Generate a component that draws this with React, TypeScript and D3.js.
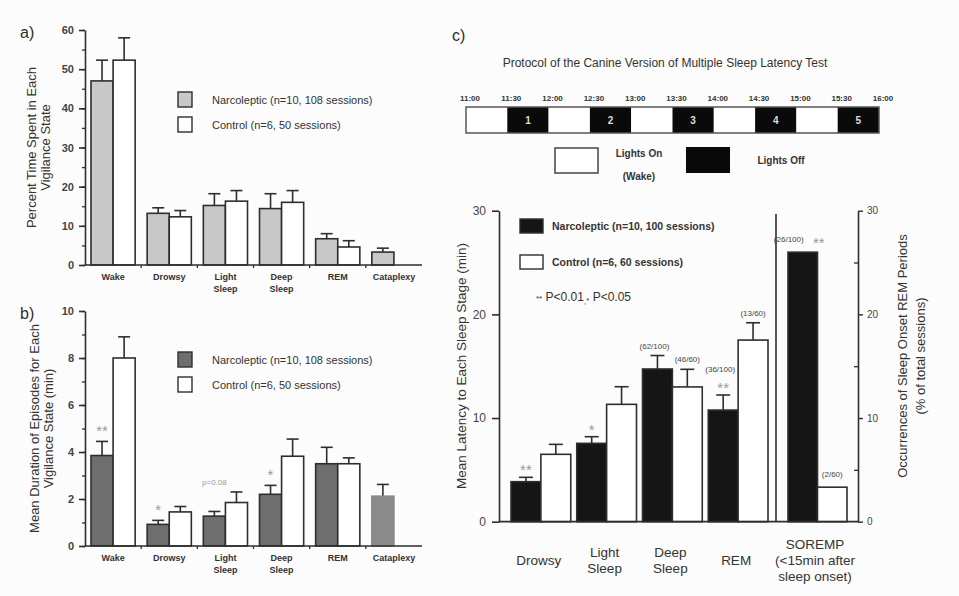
import { useEffect, useRef } from "react";
import * as d3 from "d3";

const stagesAB = ["Wake", "Drowsy", "Light Sleep", "Deep Sleep", "REM", "Cataplexy"];
const groups = ["Narcoleptic", "Control"];

// a) percent time spent in each vigilance state
const pctNarco = [47, 13.2, 15.2, 14.4, 6.7, 3.3];
const pctNarcoSem = [5.3, 1.4, 3.0, 3.8, 1.3, 1.0];
const pctControl = [52.3, 12.3, 16.3, 16.0, 4.6, null];
const pctControlSem = [5.7, 1.6, 2.7, 3.0, 1.6, null];

// b) mean duration of episodes (min)
const durNarco = [3.85, 0.92, 1.27, 2.2, 3.5, 2.12];
const durNarcoSem = [0.6, 0.17, 0.2, 0.38, 0.7, 0.5];
const durControl = [8.0, 1.45, 1.85, 3.82, 3.5, null];
const durControlSem = [0.9, 0.23, 0.45, 0.73, 0.25, null];
const durSig = ["**", "*", "p=0.08", "*", null, null];

// c) latency to each sleep stage (min)
const stagesC = ["Drowsy", "Light Sleep", "Deep Sleep", "REM"];
const latNarco = [3.86, 7.56, 14.73, 10.77];
const latNarcoSem = [0.42, 0.64, 1.3, 1.45];
const latControl = [6.5, 11.32, 13.0, 17.52];
const latControlSem = [0.96, 1.7, 1.7, 1.67];
const latNarcoCounts = [null, null, "(62/100)", "(36/100)"];
const latControlCounts = [null, null, "(46/60)", "(13/60)"];
const latNarcoSig = ["**", "*", null, "**"];
const sorempPct = [26, 3.33];
const sorempCounts = ["(26/100)", "(2/60)"];

const protocolTimes = ["11:00", "11:30", "12:00", "12:30", "13:00", "13:30", "14:00", "14:30", "15:00", "15:30", "16:00"];
const sessionLabels = ["1", "2", "3", "4", "5"];

const FONT = "'Liberation Sans', Arial, sans-serif";
const INK = "#2e2e2e";

type Sel = d3.Selection<SVGGElement, unknown, null, undefined>;

function barPanel(g: Sel, o: any) {
  const x = d3.scaleBand(stagesAB, [o.x0, o.x1]);
  const sub = d3.scaleBand(groups, [6, x.bandwidth() - 6]);
  const y = d3.scaleLinear([0, o.max], [o.yBottom, o.yTop]);
  const bw = sub.bandwidth();

  // bars
  stagesAB.forEach((s, i) => {
    const vals = [o.narco[i], o.ctrl[i]];
    const sems = [o.narcoSem[i], o.ctrlSem[i]];
    vals.forEach((v, j) => {
      if (v == null) return;
      const bx = x(s)! + sub(groups[j])!;
      const cata = s === "Cataplexy";
      const top = y(v + sems[j]);
      const cx = bx + bw / 2;
      g.append("line").attr("x1", cx).attr("x2", cx).attr("y1", y(v)).attr("y2", top)
        .attr("stroke", INK).attr("stroke-width", 1.6);
      g.append("line").attr("x1", cx - 6).attr("x2", cx + 6).attr("y1", top).attr("y2", top)
        .attr("stroke", INK).attr("stroke-width", 1.6);
      g.append("rect").attr("x", bx).attr("y", y(v)).attr("width", bw).attr("height", y(0) - y(v))
        .attr("fill", j === 0 ? (cata ? o.cataFill : o.narcoFill) : "#fff")
        .attr("stroke", cata && o.cataStroke ? o.cataStroke : INK).attr("stroke-width", 1.6);
    });
    if (o.sig && o.sig[i]) {
      const cx = x(s)! + sub(groups[0])! + bw / 2;
      const isP = o.sig[i].startsWith("p");
      g.append("text").attr("x", cx).attr("y", y(o.narco[i] + o.narcoSem[i]) - (isP ? 26 : 5))
        .attr("text-anchor", "middle").attr("font-size", isP ? 8 : 15).attr("fill", "#999")
        .attr("font-family", FONT).text(o.sig[i]);
    }
  });

  // y axis
  g.append("g").attr("transform", `translate(${o.x0},0)`)
    .call(d3.axisLeft(y).tickValues(d3.range(0, o.max + 0.01, o.minor)).tickSize(3).tickFormat(() => ""))
    .call((a) => a.select(".domain").remove())
    .call((a) => a.selectAll("line").attr("stroke", INK).attr("stroke-width", 1.3));
  g.append("g").attr("transform", `translate(${o.x0},0)`)
    .call(d3.axisLeft(y).tickValues(d3.range(0, o.max + 0.01, o.major)).tickSize(6).tickPadding(5).tickSizeOuter(0))
    .call((a) => a.select(".domain").attr("stroke", INK).attr("stroke-width", 1.6))
    .call((a) => a.selectAll("line").attr("stroke", INK).attr("stroke-width", 1.6))
    .call((a) => a.selectAll("text").attr("font-size", 11).attr("font-weight", "bold")
      .attr("font-family", FONT).attr("fill", "#444"));

  // x axis
  g.append("line").attr("x1", o.x0).attr("x2", o.x1).attr("y1", y(0)).attr("y2", y(0))
    .attr("stroke", INK).attr("stroke-width", 1.6);
  stagesAB.slice(1).forEach((s) => {
    g.append("line").attr("x1", x(s)!).attr("x2", x(s)!).attr("y1", y(0)).attr("y2", y(0) + 3)
      .attr("stroke", INK).attr("stroke-width", 1.3);
  });
  stagesAB.forEach((s) => {
    const t = g.append("text").attr("x", x(s)! + x.bandwidth() / 2).attr("y", y(0) + 15)
      .attr("text-anchor", "middle").attr("font-size", 9).attr("font-weight", "bold")
      .attr("font-family", FONT).attr("fill", "#333");
    s.split(" ").forEach((w, k) => {
      t.append("tspan").attr("x", x(s)! + x.bandwidth() / 2).attr("dy", k === 0 ? 0 : 12).text(w);
    });
  });

  // y label
  const ly = (o.yTop + o.yBottom) / 2;
  o.yLabel.forEach((l: string, k: number) => {
    g.append("text").attr("transform", `translate(${o.yLabelX[k]},${ly}) rotate(-90)`)
      .attr("text-anchor", "middle").attr("dominant-baseline", "central")
      .attr("font-size", 13).attr("font-family", FONT).attr("fill", "#333").text(l);
  });

  // panel tag
  g.append("text").attr("x", 20).attr("y", o.yTop + 8).attr("font-size", 16)
    .attr("font-family", FONT).attr("fill", INK).text(o.tag);

  // legend
  const lg = [["Narcoleptic (n=10, 108 sessions)", o.narcoFill], ["Control (n=6, 50 sessions)", "#fff"]];
  lg.forEach(([txt, fill], k) => {
    const ty = o.legendY + k * 25;
    g.append("rect").attr("x", 178).attr("y", ty).attr("width", 14).attr("height", 15)
      .attr("fill", fill).attr("stroke", INK).attr("stroke-width", 1.4);
    g.append("text").attr("x", 212).attr("y", ty + 7.5).attr("dominant-baseline", "central")
      .attr("font-size", 11).attr("font-family", FONT).attr("fill", "#333").text(txt);
  });
}

const App = () => {
  const ref = useRef<SVGSVGElement>(null);

  useEffect(() => {
    const svg = d3.select(ref.current!);
    svg.selectAll("*").remove();
    svg.append("rect").attr("width", 959).attr("height", 596).attr("fill", "#fcfcfc");

    barPanel(svg.append("g"), {
      tag: "a)", x0: 85, x1: 422, yTop: 30, yBottom: 265, max: 60, major: 10, minor: 5,
      narco: pctNarco, narcoSem: pctNarcoSem, ctrl: pctControl, ctrlSem: pctControlSem,
      narcoFill: "#c8c8c8", cataFill: "#c8c8c8",
      yLabel: ["Percent Time Spent in Each", "Vigilance State"], yLabelX: [31, 45], legendY: 92,
    });
    barPanel(svg.append("g"), {
      tag: "b)", x0: 85, x1: 422, yTop: 311, yBottom: 546, max: 10, major: 2, minor: 1,
      narco: durNarco, narcoSem: durNarcoSem, ctrl: durControl, ctrlSem: durControlSem, sig: durSig,
      narcoFill: "#6e6e6e", cataFill: "#8a8a8a", cataStroke: "#8a8a8a",
      yLabel: ["Mean Duration of Episodes for Each", "Vigilance State (min)"], yLabelX: [34, 48], legendY: 352,
    });

    // ---- panel c ----
    const g = svg.append("g");
    g.append("text").attr("x", 452).attr("y", 41).attr("font-size", 16)
      .attr("font-family", FONT).attr("fill", INK).text("c)");
    g.append("text").attr("x", 665).attr("y", 63).attr("text-anchor", "middle").attr("dominant-baseline", "central")
      .attr("font-size", 12).attr("font-family", FONT).attr("fill", "#333")
      .text("Protocol of the Canine Version of Multiple Sleep Latency Test");

    // protocol timeline
    const xt = d3.scalePoint(protocolTimes, [466, 879]);
    protocolTimes.slice(0, -1).forEach((t, i) => {
      const x0 = xt(t)!, x1 = xt(protocolTimes[i + 1])!;
      const dark = i % 2 === 1;
      g.append("rect").attr("x", x0).attr("y", 107).attr("width", x1 - x0).attr("height", 26)
        .attr("fill", dark ? "#0a0a0a" : "#fff");
      if (dark) {
        g.append("text").attr("x", (x0 + x1) / 2).attr("y", 120).attr("text-anchor", "middle")
          .attr("dominant-baseline", "central").attr("font-size", 10).attr("font-weight", "bold")
          .attr("font-family", FONT).attr("fill", "#ddd").text(sessionLabels[(i - 1) / 2]);
      }
    });
    g.append("rect").attr("x", 466).attr("y", 107).attr("width", 413).attr("height", 26)
      .attr("fill", "none").attr("stroke", "#555").attr("stroke-width", 1.5);
    protocolTimes.forEach((t) => {
      g.append("text").attr("x", xt(t)! + 4).attr("y", 98).attr("text-anchor", "middle")
        .attr("dominant-baseline", "central").attr("font-size", 8).attr("font-weight", "bold")
        .attr("font-family", FONT).attr("fill", "#333").text(t);
    });
    g.append("rect").attr("x", 555).attr("y", 148).attr("width", 43).attr("height", 25)
      .attr("fill", "#fff").attr("stroke", "#444").attr("stroke-width", 1.5);
    g.append("rect").attr("x", 686).attr("y", 147).attr("width", 44).attr("height", 26).attr("fill", "#0a0a0a");
    [["Lights On", 639, 153], ["(Wake)", 639, 176], ["Lights Off", 781, 160]].forEach(([t, x, y]) => {
      g.append("text").attr("x", x).attr("y", y).attr("text-anchor", "middle").attr("dominant-baseline", "central")
        .attr("font-size", 10).attr("font-weight", "bold").attr("font-family", FONT).attr("fill", "#333").text(t as string);
    });

    // latency chart
    const yC = d3.scaleLinear([0, 30], [521.7, 210.7]);
    const xC = d3.scaleBand(stagesC, [508, 771]);
    const subC = d3.scaleBand(groups, [3, xC.bandwidth() - 3]);
    const xS = d3.scaleBand(["SOREMP"], [776, 858]);
    const subS = d3.scaleBand(groups, [12, 71]);
    const bw = subC.bandwidth();

    stagesC.forEach((s, i) => {
      [latNarco[i], latControl[i]].forEach((v, j) => {
        const sem = j === 0 ? latNarcoSem[i] : latControlSem[i];
        const bx = xC(s)! + subC(groups[j])!;
        const cx = bx + bw / 2;
        const top = yC(v + sem);
        g.append("line").attr("x1", cx).attr("x2", cx).attr("y1", yC(v)).attr("y2", top)
          .attr("stroke", INK).attr("stroke-width", 1.6);
        g.append("line").attr("x1", cx - 7).attr("x2", cx + 7).attr("y1", top).attr("y2", top)
          .attr("stroke", INK).attr("stroke-width", 1.6);
        g.append("rect").attr("x", bx).attr("y", yC(v)).attr("width", bw).attr("height", yC(0) - yC(v))
          .attr("fill", j === 0 ? "#151515" : "#fff").attr("stroke", INK).attr("stroke-width", 1.6);
        const count = j === 0 ? latNarcoCounts[i] : latControlCounts[i];
        const sig = j === 0 ? latNarcoSig[i] : null;
        let ty = top - 7;
        if (sig) {
          g.append("text").attr("x", cx).attr("y", top - 2).attr("text-anchor", "middle")
            .attr("font-size", 15).attr("fill", "#999").attr("font-family", FONT).text(sig);
          ty = top - 23;
        }
        if (count) {
          g.append("text").attr("x", cx + (j === 0 ? -3 : 0)).attr("y", ty).attr("text-anchor", "middle")
            .attr("font-size", 8).attr("fill", "#444").attr("font-family", FONT).text(count);
        }
      });
    });
    sorempPct.forEach((v, j) => {
      const bx = xS("SOREMP")! + subS(groups[j])!;
      const w = subS.bandwidth();
      g.append("rect").attr("x", bx).attr("y", yC(v)).attr("width", w).attr("height", yC(0) - yC(v))
        .attr("fill", j === 0 ? "#151515" : "#fff").attr("stroke", INK).attr("stroke-width", 1.6);
      g.append("text").attr("x", bx + w / 2 - (j === 0 ? 14 : 0)).attr("y", yC(v) - 10).attr("text-anchor", "middle")
        .attr("font-size", 8).attr("fill", "#444").attr("font-family", FONT).text(sorempCounts[j]);
      if (j === 0) {
        g.append("text").attr("x", bx + w / 2 + 16).attr("y", yC(v) - 4).attr("text-anchor", "middle")
          .attr("font-size", 15).attr("fill", "#999").attr("font-family", FONT).text("**");
      }
    });

    // axes c
    g.append("g").attr("transform", "translate(499,0)")
      .call(d3.axisLeft(yC).tickValues([0, 10, 20, 30]).tickSize(7).tickPadding(6).tickSizeOuter(0))
      .call((a) => a.select(".domain").attr("stroke", INK).attr("stroke-width", 1.6))
      .call((a) => a.selectAll("line").attr("stroke", INK).attr("stroke-width", 1.6))
      .call((a) => a.selectAll("text").attr("font-size", 12).attr("font-family", FONT).attr("fill", "#444"));
    g.append("g").attr("transform", "translate(858,0)")
      .call(d3.axisRight(yC).tickValues([0, 10, 20, 30]).tickSize(5).tickPadding(4).tickSizeOuter(0))
      .call((a) => a.select(".domain").attr("stroke", INK).attr("stroke-width", 1.6))
      .call((a) => a.selectAll("line").attr("stroke", INK).attr("stroke-width", 1.4))
      .call((a) => a.selectAll("text").attr("font-size", 10).attr("font-family", FONT).attr("fill", "#444"));
    g.append("g").attr("transform", "translate(858,0)")
      .call(d3.axisLeft(yC).tickValues([5, 15, 25]).tickSize(4).tickFormat(() => ""))
      .call((a) => a.select(".domain").remove())
      .call((a) => a.selectAll("line").attr("stroke", INK).attr("stroke-width", 1.3));
    g.append("line").attr("x1", 499).attr("x2", 858).attr("y1", yC(0)).attr("y2", yC(0))
      .attr("stroke", INK).attr("stroke-width", 1.8);
    g.append("line").attr("x1", 776).attr("x2", 776).attr("y1", 214).attr("y2", yC(0))
      .attr("stroke", INK).attr("stroke-width", 1.6);

    // category labels c
    const catLab = (lines: string[], cx: number, y0: number) => {
      const t = g.append("text").attr("text-anchor", "middle").attr("font-size", 13.5)
        .attr("font-family", FONT).attr("fill", "#333");
      lines.forEach((l, k) => t.append("tspan").attr("x", cx).attr("y", y0 + k * 16).text(l));
    };
    stagesC.forEach((s) => {
      const cx = xC(s)! + xC.bandwidth() / 2;
      const parts = s.split(" ");
      catLab(parts, cx - 2, parts.length > 1 ? 557 : 565);
    });
    catLab(["SOREMP", "(<15min after", "sleep onset)"], 815, 549);

    // legend c
    [["Narcoleptic (n=10, 100 sessions)", "#151515", 219], ["Control (n=6, 60 sessions)", "#fff", 255]].forEach(([t, f, y]) => {
      g.append("rect").attr("x", 520).attr("y", y as number).attr("width", 23).attr("height", 14)
        .attr("fill", f as string).attr("stroke", INK).attr("stroke-width", 1.4);
      g.append("text").attr("x", 552).attr("y", (y as number) + 7).attr("dominant-baseline", "central")
        .attr("font-size", 10.5).attr("font-weight", "bold").attr("font-family", FONT).attr("fill", "#333").text(t as string);
    });
    const pt = g.append("text").attr("x", 536).attr("y", 301).attr("font-family", FONT).attr("fill", "#333");
    pt.append("tspan").attr("font-size", 8).text("**");
    pt.append("tspan").attr("font-size", 12).text(" P<0.01");
    pt.append("tspan").attr("font-size", 8).attr("dy", 3).text(",");
    pt.append("tspan").attr("font-size", 8).attr("dy", -1).text("*");
    pt.append("tspan").attr("font-size", 12).attr("dy", -2).text(" P<0.05");

    // y labels c
    g.append("text").attr("transform", "translate(461,366) rotate(-90)").attr("text-anchor", "middle")
      .attr("dominant-baseline", "central").attr("font-size", 13.5).attr("font-family", FONT).attr("fill", "#333")
      .text("Mean Latency to Each Sleep Stage (min)");
    [["Occurrences of Sleep Onset REM Periods", 902], ["(% of total sessions)", 920]].forEach(([t, x]) => {
      g.append("text").attr("transform", `translate(${x},356) rotate(-90)`).attr("text-anchor", "middle")
        .attr("dominant-baseline", "central").attr("font-size", 13).attr("font-family", FONT).attr("fill", "#333")
        .text(t as string);
    });
  }, []);

  return (
    <svg ref={ref} width={959} height={596} style={{ position: "absolute", left: 0, top: 0 }} />
  );
};

export default App;
